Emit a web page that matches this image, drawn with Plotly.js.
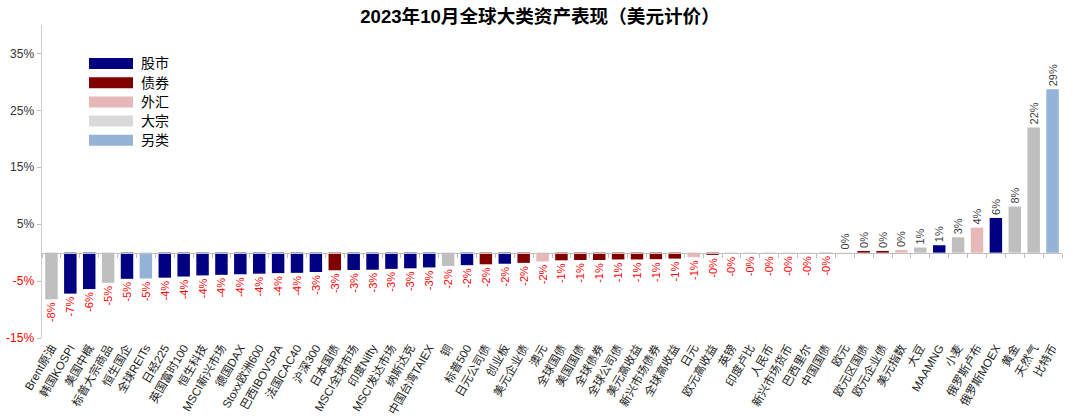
<!DOCTYPE html>
<html><head><meta charset="utf-8">
<script src="https://cdn.plot.ly/plotly-3.0.1.min.js"></script>
<style>html,body{margin:0;padding:0;background:#fff}</style>
</head><body><div id="chart" style="width:1080px;height:417px"></div>
<script>
const categories = ['Brent原油','韩国KOSPI','美国中概','标普大宗商品','恒生国企','全球REITs','日经225','英国富时100','恒生科技','MSCI新兴市场','德国DAX','Stoxx欧洲600','巴西IBOVSPA','法国CAC40','沪深300','日本国债','MSCI全球市场','印度Nifty','MSCI发达市场','纳斯达克','中国台湾TAIEX','铜','标普500','日元公司债','创业板','美元企业债','澳元','全球国债','美国国债','全球债券','全球公司债','美元高收益','新兴市场债券','全球高收益','日元','欧元高收益','英镑','印度卢比','人民币','新兴市场货币','巴西里尔','中国国债','欧元','欧元区国债','欧元企业债','美元指数','大豆','MAAMNG','小麦','俄罗斯卢布','俄罗斯MOEX','黄金','天然气','比特币'];
const values = [-8.2,-7.2,-6.4,-5.3,-4.6,-4.55,-4.4,-4.2,-4.0,-3.9,-3.8,-3.7,-3.6,-3.55,-3.4,-3.1,-3.05,-3.0,-2.85,-2.75,-2.6,-2.35,-2.2,-2.05,-1.95,-1.8,-1.55,-1.35,-1.3,-1.3,-1.2,-1.2,-1.15,-1.05,-0.8,-0.4,-0.2,-0.15,-0.1,-0.08,-0.05,-0.03,0.03,0.3,0.3,0.45,0.9,1.3,2.7,4.4,6.1,8.1,22.0,28.7];
const assetClass = ['大宗','股市','股市','大宗','股市','另类','股市','股市','股市','股市','股市','股市','股市','股市','股市','债券','股市','股市','股市','股市','股市','大宗','股市','债券','股市','债券','外汇','债券','债券','债券','债券','债券','债券','债券','外汇','债券','外汇','外汇','外汇','外汇','外汇','债券','外汇','债券','债券','外汇','大宗','股市','大宗','外汇','股市','大宗','大宗','另类'];
const legendNames = ['股市','债券','外汇','大宗','另类'];
const barColors = {'股市':'#000080','债券':'#800000','外汇':'#E6B9B8','大宗':'#BFBFBF','另类':'#95B3D7'};
const legendColors = {'股市':'#000080','债券':'#800000','外汇':'#E6B9B8','大宗':'#D9D9D9','另类':'#95B3D7'};
const yTickVals = [-15,-5,5,15,25,35];
const titleText = '2023年10月全球大类资产表现（美元计价）';

const FONT = 'Liberation Sans, Arial, Noto Sans CJK SC, sans-serif';
const M = {l:42, r:18, t:25, b:79};
const W = 1080, H = 417;
const pw = W - M.l - M.r, ph = H - M.t - M.b;
const px2x = p => (p - M.l) / pw;
const py2y = p => (H - M.b - p) / ph;
const yMin = -15, yMax = 40;

function pctLabel(v){
  const r = Math.abs(v).toFixed(0);
  return (v < 0 ? '-' : '') + r + '%';
}

const barTrace = {
  type:'bar', x:categories, y:values,
  marker:{color:assetClass.map(c=>barColors[c]), line:{width:0}},
  text: values.map(pctLabel),
  textposition:'outside', textangle:-90,
  textfont:{size:11, family:FONT, color:values.map(v=>v<0?'#FF0000':'#404040')},
  constraintext:'none', cliponaxis:false,
  hoverinfo:'x+y', showlegend:false
};
const axisTrace = {
  type:'scatter', mode:'markers', x:categories, y:categories.map(()=>0),
  xaxis:'x2', marker:{opacity:0}, hoverinfo:'skip', showlegend:false
};

const shapes = [], annotations = [];
legendNames.forEach((n,i)=>{
  const yc = 63.5 + i*19.2;
  shapes.push({type:'rect', xref:'paper', yref:'paper',
    x0:px2x(89), x1:px2x(133), y0:py2y(yc+5.5), y1:py2y(yc-5.5),
    fillcolor:legendColors[n], line:{width:0}});
  annotations.push({xref:'paper', yref:'paper', x:px2x(139), y:py2y(yc),
    xanchor:'left', yanchor:'middle', text:n, showarrow:false,
    font:{size:14, color:'#000', family:FONT}});
});

const layout = {
  width:W, height:H, margin:M, paper_bgcolor:'#fff', plot_bgcolor:'#fff',
  font:{family:FONT, color:'#333'},
  title:{text:'<b>'+titleText+'</b>', x:0.5, xref:'container', y:1-16/H, yref:'container',
    xanchor:'center', yanchor:'middle', font:{size:18.6, color:'#000', family:FONT}},
  bargap:0.34,
  xaxis:{type:'category', range:[-0.5, categories.length-0.5], showline:false, ticks:'',
    tickangle:-60, tickfont:{size:11.5, color:'#222', family:FONT}, showgrid:false,
    zeroline:false, automargin:false, fixedrange:true},
  xaxis2:{type:'category', overlaying:'x', anchor:'free', position:(0-yMin)/(yMax-yMin),
    range:[-0.5, categories.length-0.5], showline:true, linecolor:'#BFBFBF', linewidth:1,
    ticks:'outside', tickson:'boundaries', ticklen:4, tickcolor:'#BFBFBF', tickwidth:1,
    showticklabels:false, showgrid:false, zeroline:false},
  yaxis:{range:[yMin,yMax], showline:true, linecolor:'#D0D0D0', linewidth:1.5,
    ticks:'outside', ticklen:4, tickcolor:'#BFBFBF', tickvals:yTickVals,
    ticktext:yTickVals.map(v=> v<0 ? '<span style="color:#FF0000">'+v+'%</span>' : v+'%'),
    tickfont:{size:12, color:'#333', family:FONT}, showgrid:false, zeroline:false, automargin:false},
  shapes:shapes, annotations:annotations
};
Plotly.newPlot('chart',[barTrace, axisTrace],layout,{displayModeBar:false, staticPlot:true});
</script></body></html>
